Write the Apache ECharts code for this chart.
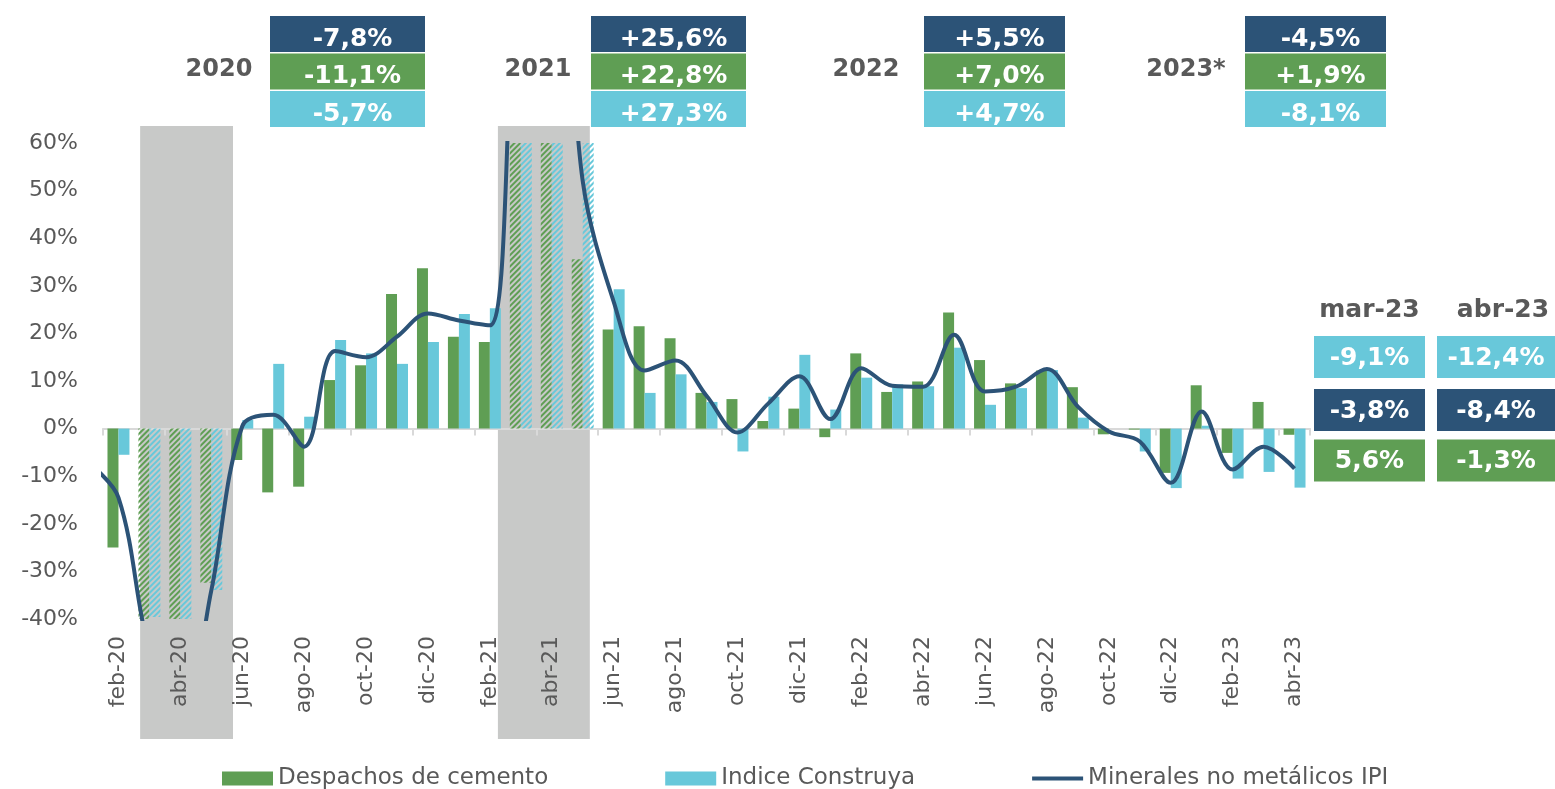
<!DOCTYPE html>
<html><head><meta charset="utf-8">
<script src="https://cdn.jsdelivr.net/npm/echarts@6/dist/echarts.min.js"></script>
<style>html,body{margin:0;padding:0;background:#fff}#c{width:1555px;height:789px}</style>
</head><body><div id="c"></div>
<script>
// ---- data ----
const months = ['feb-20','mar-20','abr-20','may-20','jun-20','jul-20','ago-20','sep-20','oct-20','nov-20','dic-20',
  'ene-21','feb-21','mar-21','abr-21','may-21','jun-21','jul-21','ago-21','sep-21','oct-21','nov-21','dic-21',
  'ene-22','feb-22','mar-22','abr-22','may-22','jun-22','jul-22','ago-22','sep-22','oct-22','nov-22','dic-22',
  'ene-23','feb-23','mar-23','abr-23'];
const cemento = [-25.0,-41,-45,-32.4,-6.6,-13.4,-12.2,10.2,13.3,28.3,33.7,
  19.3,18.2,80,95,35.6,20.8,21.5,19.0,7.5,6.2,1.6,4.2,
  -1.8,15.8,7.7,9.9,24.4,14.4,9.5,12.2,8.7,-1.2,-0.2,-9.3,
  9.1,-5.1,5.6,-1.3];
const construya = [-5.5,-39.6,-45,-33.9,1.8,13.6,2.5,18.6,15.8,13.6,18.2,
  24.1,25.3,85,90,75,29.3,7.5,11.4,5.6,-4.8,6.7,15.5,
  4.0,10.7,9.3,8.9,17.0,5.0,8.5,12.3,2.3,0.0,-4.8,-12.5,
  0.6,-10.5,-9.1,-12.4];
const ipi = [-14.5,-47,-62,-34,0.5,2.9,-3.8,16.3,15.0,19.3,24.2,
  22.7,21.7,105,120,52,26.7,12.2,14.3,6.9,-0.8,5.3,11.0,
  2.0,12.7,9.0,8.8,19.7,7.8,8.8,12.5,4.6,-0.6,-2.7,-11.4,
  3.6,-8.6,-3.8,-8.4];
const ipiPrevMonth = -7; // ene-20, only its segment near the left edge is visible
const hatchedMonths = ['mar-20','abr-20','may-20','mar-21','abr-21','may-21'];
const yTickMin = -40, yTickMax = 60, yTickStep = 10;

const years = ['2020','2021','2022','2023*'];
const yearIpi = [-7.8, 25.6, 5.5, -4.5];
const yearCemento = [-11.1, 22.8, 7.0, 1.9];
const yearConstruya = [-5.7, 27.3, 4.7, -8.1];

const shadeSpans = [[0.7, 3.7], [12.26, 15.23]]; // in month-index units

const seriesNames = ['Despachos de cemento', 'Indice Construya', 'Minerales no metálicos IPI'];

// ---- styles ----
const GREEN = '#5F9E54', CYAN = '#68C8DA', NAVY = '#2C5377', GREY_TXT = '#595959', SHADE = '#C8C9C8';
const FONT = '"DejaVu Sans", Verdana, sans-serif';

const hatchSet = new Set(hatchedMonths);
function barData(values, color) {
  return values.map((v, i) => hatchSet.has(months[i]) ? {
    value: v,
    itemStyle: {
      color: 'rgba(255,255,255,0)',
      decal: { symbol: 'rect', symbolSize: 1, color: color, dashArrayX: [1, 0], dashArrayY: [2, 2], rotation: -Math.PI / 4 }
    }
  } : v);
}
const lineData = [[-1, ipiPrevMonth]].concat(ipi.map((v, i) => [i, v]));

const chart = echarts.init(document.getElementById('c'), null, { renderer: 'canvas' });
const option = {
  animation: false,
  backgroundColor: '#fff',
  textStyle: { fontFamily: FONT },
  grid: { left: 103, right: 245, top: 143, bottom: 170, containLabel: false },
  legend: {
    data: [
      { name: seriesNames[0], icon: 'rect' },
      { name: seriesNames[1], icon: 'rect' },
      { name: seriesNames[2], icon: 'path://M0,0 M0,5 L54,5 L54,9 L0,9 Z M54,14' }
    ],
    left: 222, top: 767, padding: 0,
    itemWidth: 51, itemHeight: 14, itemGap: 117,
    itemStyle: { borderWidth: 0 },
    textStyle: { fontSize: 23, color: GREY_TXT, fontFamily: FONT }
  },
  xAxis: [
    { type: 'category', data: months, position: 'bottom',
      axisLine: { show: false, onZero: false }, axisTick: { show: false },
      axisLabel: { interval: 1, rotate: 90, margin: 17, fontSize: 22, color: GREY_TXT, fontFamily: FONT },
      splitLine: { show: false } },
    { type: 'category', data: months, position: 'bottom',
      axisLine: { show: true, onZero: true, lineStyle: { color: '#D9D9D9', width: 2 } },
      axisTick: { show: true, interval: 1, length: 7, lineStyle: { color: '#D9D9D9', width: 2 } },
      axisLabel: { show: false }, splitLine: { show: false } },
    { type: 'value', min: -0.5, max: months.length - 0.5, show: false,
      axisLine: { show: false }, splitLine: { show: false } }
  ],
  yAxis: {
    type: 'value', min: yTickMin, max: yTickMax, interval: yTickStep,
    axisLine: { show: false }, axisTick: { show: false }, splitLine: { show: false },
    axisLabel: { formatter: '{value}%', fontSize: 22, color: GREY_TXT, margin: 25, fontFamily: FONT }
  },
  series: [
    { name: seriesNames[0], type: 'bar', xAxisIndex: 0, data: barData(cemento, GREEN),
      itemStyle: { color: GREEN }, barGap: '0%', barCategoryGap: '29%', z: 2, emphasis: { disabled: true } },
    { name: seriesNames[1], type: 'bar', xAxisIndex: 0, data: barData(construya, CYAN),
      itemStyle: { color: CYAN }, barGap: '0%', barCategoryGap: '29%', z: 2, emphasis: { disabled: true } },
    { name: seriesNames[2], type: 'line', xAxisIndex: 2, data: lineData, smooth: 0.35,
      symbol: 'none', clip: true, lineStyle: { color: NAVY, width: 4 }, itemStyle: { color: NAVY }, z: 5,
      emphasis: { disabled: true } }
  ]
};
chart.setOption(option);

// ---- annotation graphics ----
const fmtSigned = v => (v > 0 ? '+' : '') + v.toFixed(1).replace('.', ',') + '%';
const fmt = v => v.toFixed(1).replace('.', ',') + '%';
const g = [];
// grey shading behind pandemic months
shadeSpans.forEach(([a, b]) => {
  const x0 = chart.convertToPixel({ xAxisIndex: 2 }, a);
  const x1 = chart.convertToPixel({ xAxisIndex: 2 }, b);
  g.push({ type: 'rect', z: -10, silent: true, shape: { x: x0, y: 126, width: x1 - x0, height: 613 }, style: { fill: SHADE } });
});
// yearly summary boxes
const boxLeft = [270, 591, 924, 1245], boxW = [155, 155, 141, 141], yearX = [219, 538, 866, 1186];
const rowTop = [16, 53.5, 91], rowH = 36;
years.forEach((y, k) => {
  g.push({ type: 'text', x: yearX[k], y: 70, z: 10, style: { text: y, fill: GREY_TXT, font: 'bold 24px ' + FONT, textAlign: 'center', textVerticalAlign: 'middle' } });
  const vals = [yearIpi[k], yearCemento[k], yearConstruya[k]];
  const cols = [NAVY, GREEN, CYAN];
  vals.forEach((v, r) => {
    g.push({ type: 'rect', z: 10, shape: { x: boxLeft[k], y: rowTop[r], width: boxW[k], height: rowH }, style: { fill: cols[r] } });
    g.push({ type: 'text', z: 11, x: boxLeft[k] + boxW[k] / 2 + 5, y: rowTop[r] + rowH / 2 + 5,
      style: { text: fmtSigned(v), fill: '#fff', font: 'bold 25px ' + FONT, textAlign: 'center', textVerticalAlign: 'middle' } });
  });
});
// last two months boxes
const lastIdx = [months.length - 2, months.length - 1];
const rLeft = [1314, 1437], rW = [111, 118], rTop = [336, 389, 439.5], rH = 42;
lastIdx.forEach((idx, k) => {
  g.push({ type: 'text', x: rLeft[k] + rW[k] / 2 + (k ? 7 : 0), y: 310, z: 10, style: { text: months[idx], fill: GREY_TXT, font: 'bold 25px ' + FONT, textAlign: 'center', textVerticalAlign: 'middle' } });
  const vals = [construya[idx], ipi[idx], cemento[idx]];
  const cols = [CYAN, NAVY, GREEN];
  vals.forEach((v, r) => {
    g.push({ type: 'rect', z: 10, shape: { x: rLeft[k], y: rTop[r], width: rW[k], height: rH }, style: { fill: cols[r] } });
    g.push({ type: 'text', z: 11, x: rLeft[k] + rW[k] / 2, y: rTop[r] + rH / 2 + 1,
      style: { text: fmt(v), fill: '#fff', font: 'bold 25px ' + FONT, textAlign: 'center', textVerticalAlign: 'middle' } });
  });
});
chart.setOption({ graphic: g });
</script>
</body></html>
